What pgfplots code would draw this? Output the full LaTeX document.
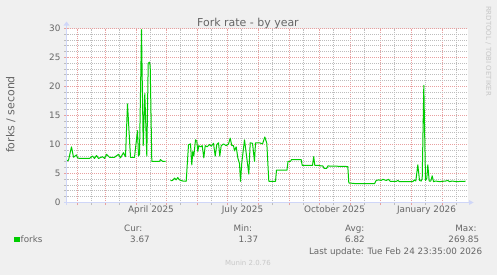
\documentclass[border=0pt]{standalone}
\usepackage{pgfplots}
\pgfplotsset{compat=1.18}
\usepackage{pgfplotstable}
\usepackage{fontspec}
\setmainfont{DejaVu Sans}
\definecolor{bgc}{HTML}{F0F0F0}
\definecolor{fontc}{HTML}{666666}
\definecolor{axisc}{HTML}{CFD6F8}
\definecolor{mgridc}{HTML}{E8A0A0}
\definecolor{gridc}{HTML}{BDBDBD}
\definecolor{linec}{HTML}{00CC00}
\definecolor{faintc}{HTML}{C8C8C8}
\newcommand\lf{\fontsize{8.8}{10}\selectfont}

% day = days since 2025-01-01
\pgfplotstableread{
day val
20 7.2
22 7.3
25 9.6
27 7.8
30 8.2
31 7.7
33 7.6
38 7.6
43 7.6
46 8.0
48 7.6
50 8.1
52 7.6
56 7.9
58 7.6
60 8.3
63 7.8
68 7.8
72 8.3
74 7.7
77 8.6
79 7.9
81 17.0
84 7.8
88 7.8
91 12.4
92 8.0
93 8.3
95 29.8
96.7 9.8
98.3 18.8
100.3 8.0
101.7 24.0
103 24.2
103.7 23.5
105.3 7.1
108 7.1
113 7.1
114 7.4
116 7.1
119 7.1
}\segA

\pgfplotstableread{
day val
124 3.77
126 3.8
128 4.2
129.7 3.9
131.3 4.3
133 3.9
136.3 3.7
139.7 3.66
142 9.95
144 10.1
145.3 6.5
146.3 8.8
147.3 8.0
149 10.8
150.3 10.6
151.3 8.8
152.3 9.8
154 9.6
155.7 9.8
157.3 7.7
158.7 9.8
160.7 9.6
163 10.0
164.7 9.7
167 10.2
168.7 8.0
170.3 10.0
172 10.3
173.3 8.0
174.7 9.8
177 10.1
179.7 9.8
182 10.1
183.7 11.1
185.3 9.8
187 9.8
188 8.9
189.7 9.6
191.3 7.7
193 6.7
194 3.66
195.3 6.9
198 10.8
199.7 8.5
202.3 4.9
203.7 10.3
206 10.2
208 7.1
209 10.3
213 10.3
216 10.1
218.3 11.3
220.3 10.2
222.3 3.66
229 3.66
230 5.6
240.5 5.6
241.5 7.1
244 7.1
245 7.4
254.7 7.4
255.7 6.4
266 6.4
267.2 7.9
268.3 6.4
273 6.4
274 6.3
276.3 6.3
277.5 5.9
280.3 5.9
281.3 6.3
301.3 6.2
302.3 3.37
309.5 3.25
328 3.25
329.7 3.8
332.3 3.9
334.7 3.8
336.3 4.0
339.7 3.8
342 4.0
343.7 3.66
350 3.66
351.3 3.8
353 3.6
366.3 3.6
368 3.9
369.3 3.7
371.3 6.5
373 3.8
374.7 3.7
375.7 4.1
377.3 20.2
379 3.8
380.3 4.2
381.3 6.5
382.7 3.7
384.3 3.7
385.7 4.6
387 3.6
389 3.7
393 3.6
399 3.7
401.3 3.8
403 3.6
405.7 3.7
409.7 3.6
419 3.67
}\segB

\begin{document}
\begin{tikzpicture}[x=1bp,y=1bp]
\useasboundingbox (0,0) rectangle (497,275);
\fill[bgc] (0,0) rectangle (497,275);
\begin{axis}[
  at={(66.5bp,72.5bp)}, anchor=south west, scale only axis,
  width=401bp, height=174bp,
  xmin=20, xmax=421, ymin=0, ymax=30,
  axis background/.style={fill=white},
  axis line style={draw=none},
  xtick={31,59,90,120,151,181,212,243,273,304,334,365,396},
  xticklabels={},
  minor xtick={45,73,104,134,165,195,226,257,287,318,348,379,410},
  ytick={0,5,...,30},
  minor ytick={1,2,3,4,6,7,8,9,11,12,13,14,16,17,18,19,21,22,23,24,26,27,28,29},
  xmajorgrids=true, ymajorgrids=true, xminorgrids=true, yminorgrids=true,
  major grid style={draw=mgridc, line width=1bp, dash pattern=on 1bp off 1bp, dash phase=0.5bp},
  minor grid style={draw=gridc, line width=1bp, dash pattern=on 1bp off 1bp, dash phase=0.5bp},
  tick align=outside, xtick pos=bottom, ytick pos=left,
  major tick length=2.5bp, minor tick length=2.5bp,
  major tick style={draw=mgridc, line width=1bp},
  minor tick style={draw=gridc, line width=1bp},
  extra x ticks={104.5,196,288,380},
  extra x tick labels={April 2025,July 2025,October 2025,January 2026},
  extra x tick style={grid=none, major tick length=0pt},
  tick label style={font=\fontsize{8.9}{10}\selectfont, text=fontc},
  /pgf/number format/assume math mode=true,
]
\addplot[linec, line width=1bp, line join=round] table[x=day,y=val]{\segA};
\addplot[linec, line width=1bp, line join=round] table[x=day,y=val]{\segB};
\end{axis}
% axis lines with arrows
\draw[axisc, line width=1bp] (66.5,70) -- (66.5,250);
\fill[axisc] (63.5,249.5) -- (69.5,249.5) -- (66.5,253.5) -- cycle;
\draw[axisc, line width=1bp] (64,72.5) -- (470,72.5);
\fill[axisc] (469,70) -- (469,75) -- (473.5,72.5) -- cycle;
% titles
\node[anchor=base, inner sep=0, font=\fontsize{11}{12}\selectfont, text=fontc] at (248,249) {Fork rate - by year};
\node[rotate=90, inner sep=0, font=\fontsize{11}{12}\selectfont, text=fontc] at (10.8,160.5) {forks / second};
\node[rotate=-90, inner sep=0, font=\fontsize{7}{8}\selectfont, text=faintc] at (488.3,224) {RRDTOOL / TOBI OETIKER};
% legend
\fill[linec] (14,33) rectangle (19.5,38.5);
\node[anchor=base west, inner sep=0, font=\lf, text=fontc] at (20.5,32.7) {forks};
\node[anchor=base west, inner sep=0, font=\lf, text=fontc] at (124,44) {Cur:};
\node[anchor=base west, inner sep=0, font=\lf, text=fontc] at (130,32.7) {3.67};
\node[anchor=base west, inner sep=0, font=\lf, text=fontc] at (233.3,44) {Min:};
\node[anchor=base east, inner sep=0, font=\lf, text=fontc] at (258.3,32.7) {1.37};
\node[anchor=base west, inner sep=0, font=\lf, text=fontc] at (345,44) {Avg:};
\node[anchor=base west, inner sep=0, font=\lf, text=fontc] at (345,32.7) {6.82};
\node[anchor=base east, inner sep=0, font=\lf, text=fontc] at (476.7,44) {Max:};
\node[anchor=base east, inner sep=0, font=\lf, text=fontc] at (479.3,32.7) {269.85};
\node[anchor=base east, inner sep=0, font=\lf, text=fontc] at (482.3,21) {Last update: Tue Feb 24 23:35:00 2026};
\node[anchor=base, inner sep=0, font=\fontsize{7}{8}\selectfont, text=faintc] at (248,10) {Munin 2.0.76};
\end{tikzpicture}
\end{document}
